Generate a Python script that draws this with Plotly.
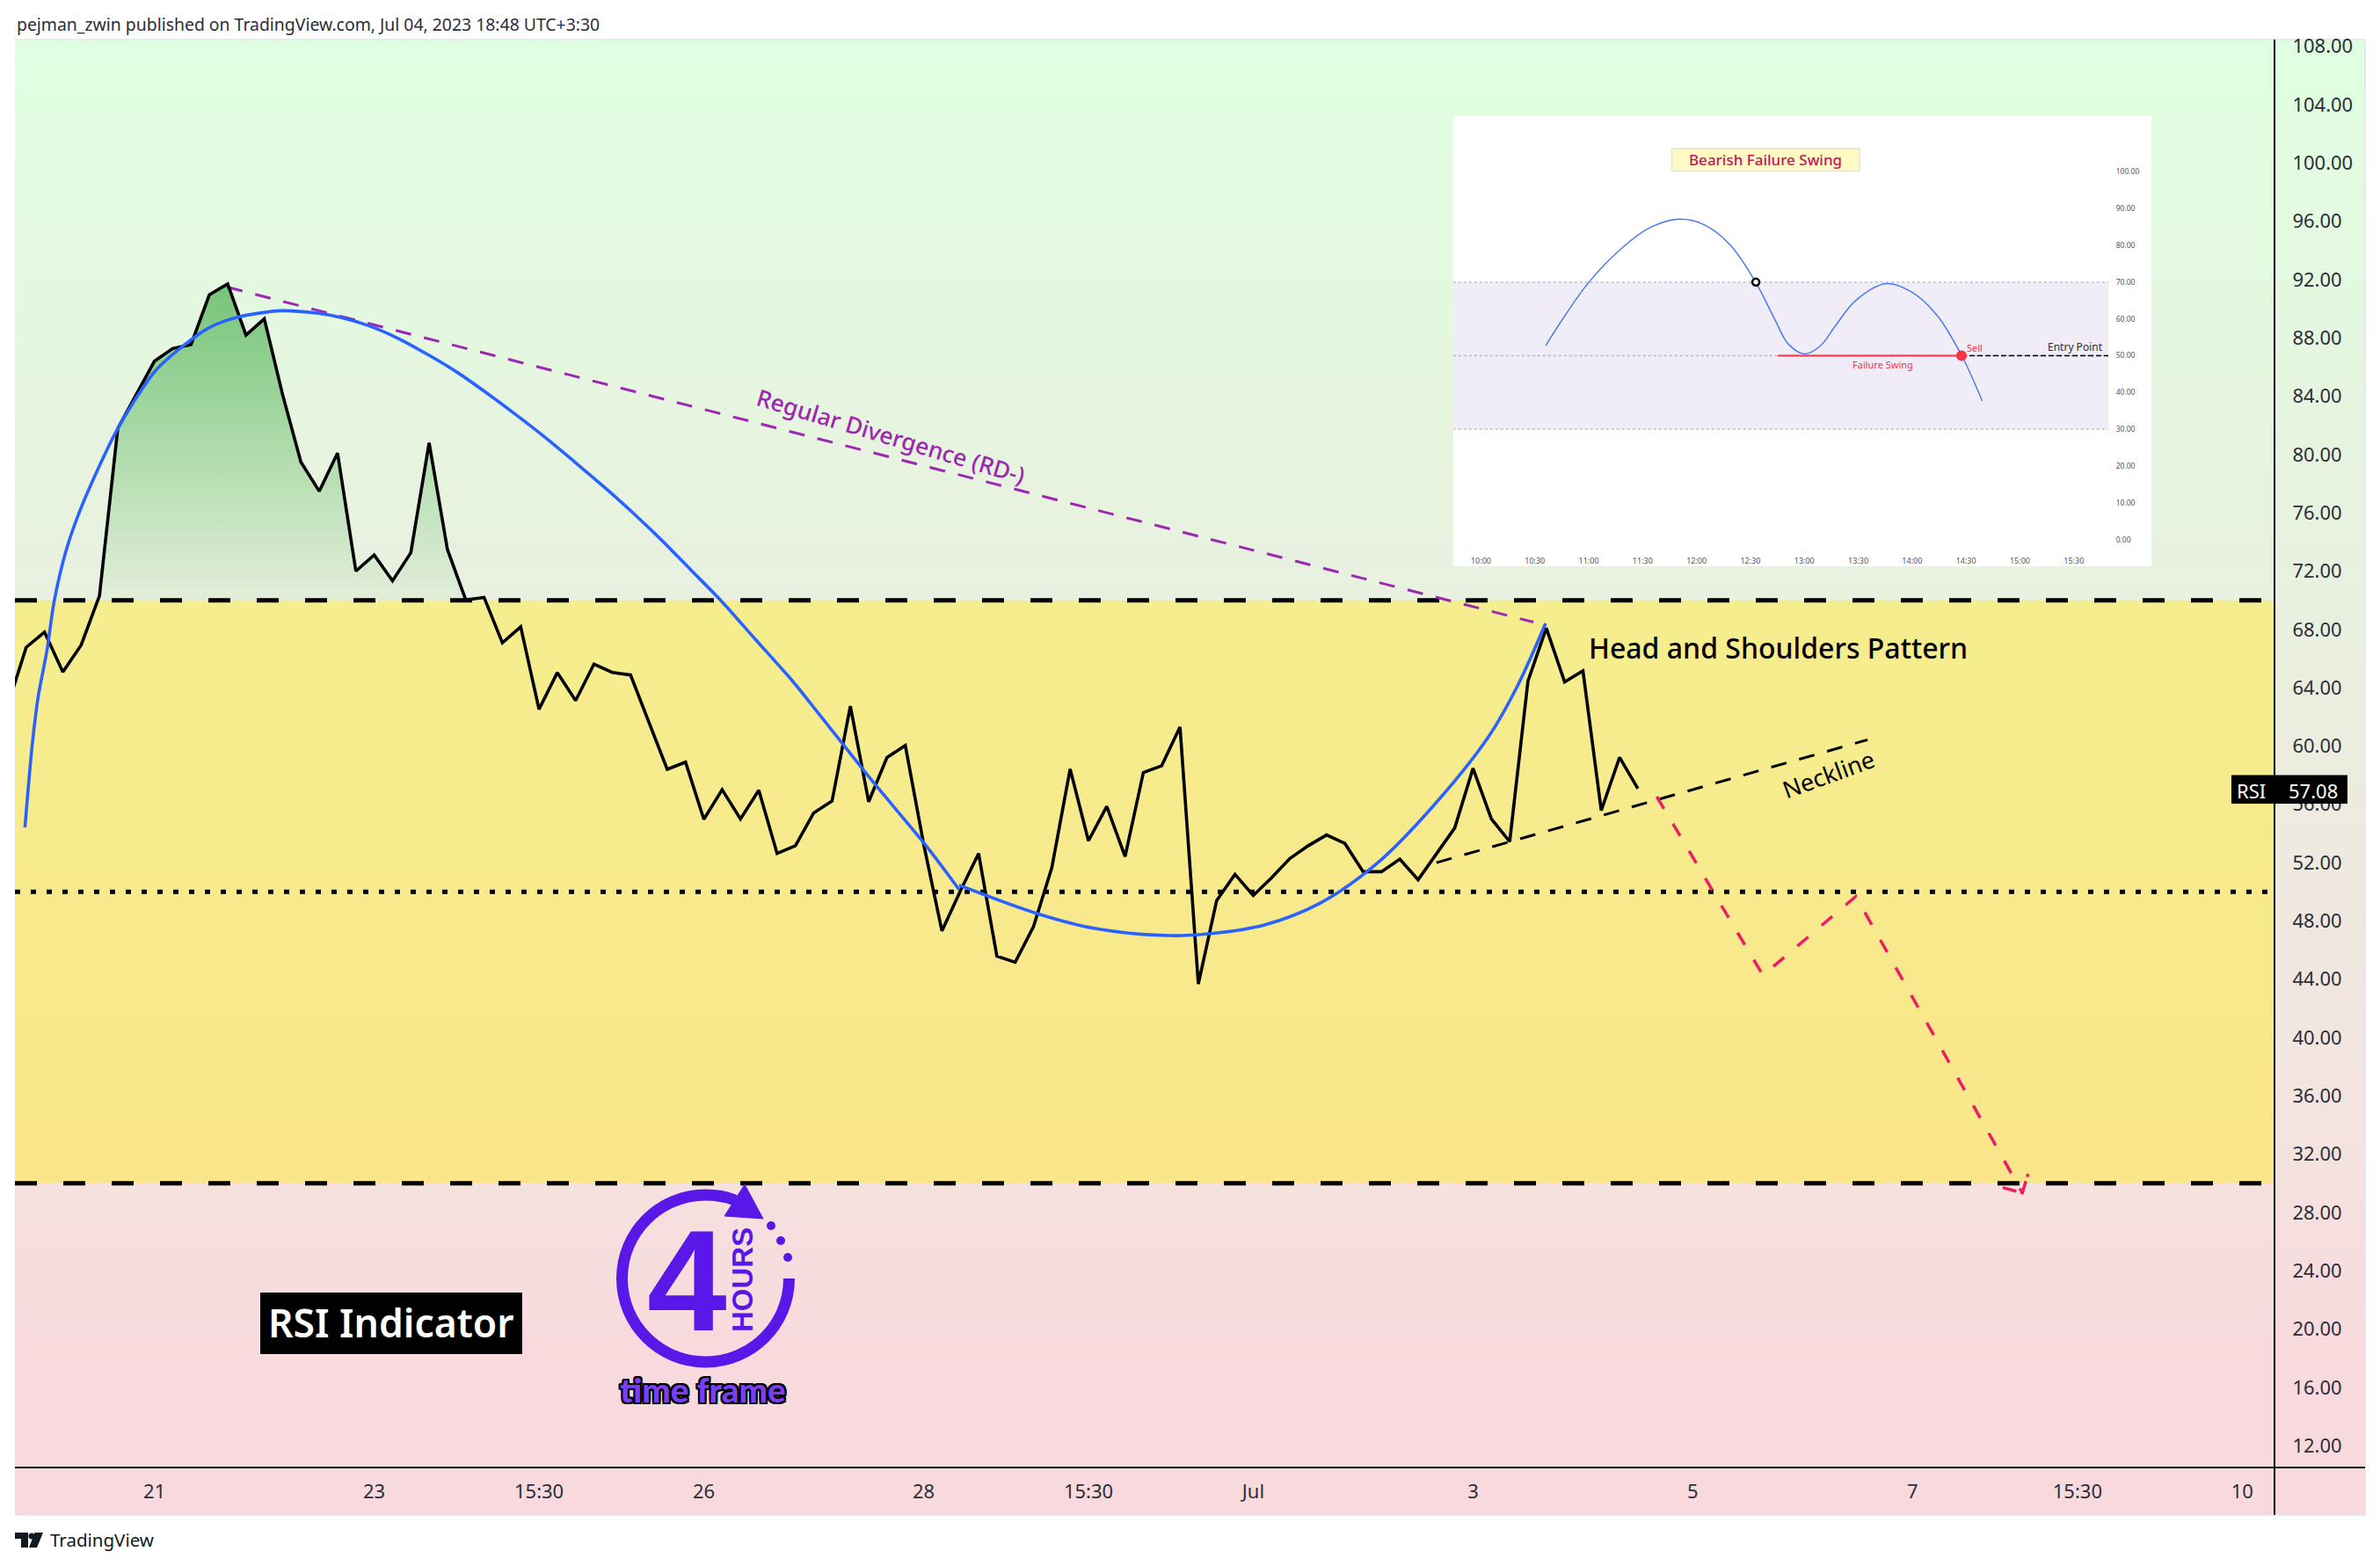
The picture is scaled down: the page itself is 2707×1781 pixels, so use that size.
import plotly.graph_objects as go

# page is 2707x1781 but body has an 8px margin, so the figure is a bit smaller
OFF = 8
W = 2691
H = 1764

# ---- RSI chart data (bar index, value)
rsi_x = list(range(0, 90))
rsi_y = [62.82, 66.77, 67.82, 65.08, 66.92, 70.31, 81.79, 84.1, 86.4, 87.27,
         87.54, 90.96, 91.7, 88.19, 89.3, 84.1, 79.48, 77.48, 80.1, 72.0,
         73.11, 71.33, 73.26, 80.8, 73.48, 70.03, 70.2, 67.08, 68.18, 62.52,
         65.04, 63.12, 65.62, 65.05, 64.87, 61.64, 58.4, 58.9, 54.98, 57.01,
         55.0, 56.97, 52.63, 53.16, 55.42, 56.23, 62.74, 56.18, 59.21, 60.04,
         53.28, 47.32, 50.04, 52.63, 45.59, 45.17, 47.62, 51.66, 58.42, 53.5,
         55.86, 52.42, 58.19, 58.65, 61.31, 43.67, 49.4, 51.2, 49.75, 50.97,
         52.29, 53.16, 53.9, 53.32, 51.38, 51.38, 52.24, 50.83, 52.58, 54.38,
         58.47, 55.0, 53.44, 64.47, 68.09, 64.4, 65.16, 55.58, 59.22, 57.08]

# blue hand drawn arcs
arc1_x = [0.93, 1.33, 1.65, 2.13, 2.53, 3.17, 3.89, 4.85, 5.89, 6.93, 8.05, 9.57, 10.93, 12.53,
          14.93, 16.85, 18.13, 19.73, 21.33, 22.93, 24.53, 26.13, 27.74, 29.33, 30.93, 32.53,
          34.13, 35.73, 37.33, 38.93, 40.85, 42.78, 44.10, 47.15, 50.22, 51.95]
arc1_y = [54.42, 60.11, 63.35, 66.54, 69.96, 73.38, 76.0, 78.81, 81.52, 83.73, 85.74, 87.45, 88.66, 89.42,
          89.86, 89.70, 89.42, 88.82, 87.95, 86.85, 85.64, 84.23, 82.73, 81.18, 79.51, 77.8,
          76.0, 74.08, 72.03, 69.98, 67.27, 64.55, 62.50, 57.68, 53.03, 50.14]
arc2_x = [51.94, 56.35, 59.39, 63.37, 65.53, 68.60, 71.65, 74.70, 77.77, 80.84, 82.38, 83.96]
arc2_y = [50.46, 48.45, 47.48, 47.0, 47.12, 47.73, 49.23, 51.89, 55.81, 60.63, 64.01, 68.41]

div_x = [11.97, 83.3]
div_y = [91.48, 68.5]
neck_x = [78.0, 101.54]
neck_y = [52.0, 60.43]
path_x = [90.03, 95.83, 100.9, 109.99]
path_y = [56.53, 44.27, 49.69, 29.35]
head_x = [108.92, 109.99, 110.31]
head_y = [29.71, 29.35, 30.66]

x_ticks = [8, 20, 29, 38, 50, 59, 68, 80, 92, 104, 113, 122]
x_labels = ['21', '23', '15:30', '26', '28', '15:30', 'Jul', '3', '5', '7', '15:30', '10']
y_ticks = list(range(12, 112, 4))

# ---- inset (bearish failure swing)
ins_x = [10.60, 11.0, 11.325, 11.56, 11.84, 12.07, 12.31, 12.55, 12.73, 12.85, 13.0, 13.15,
         13.29, 13.48, 13.76, 13.99, 14.23, 14.46, 14.65]
ins_y = [52.74, 69.93, 79.7, 84.7, 87.1, 85.6, 80.2, 69.9, 59.6, 53.2, 50.5, 52.7,
         58.2, 65.1, 69.6, 67.4, 61.0, 50.0, 37.7]
ins_x_ticks = [10, 10.5, 11, 11.5, 12, 12.5, 13, 13.5, 14, 14.5, 15, 15.5]
ins_x_labels = ['10:00', '10:30', '11:00', '11:30', '12:00', '12:30', '13:00', '13:30', '14:00', '14:30', '15:00', '15:30']
ins_y_ticks = [0, 10, 20, 30, 40, 50, 60, 70, 80, 90, 100]

# axis windows
X_MIN, X_MAX = 0.385, 123.76
Y_MIN, Y_MAX = 10.51, 108.13
INS_X_MIN, INS_X_MAX = 9.742, 15.82
INS_Y_MIN, INS_Y_MAX = -2.25, 115.3

FONT = 'Noto Sans'
INK = '#2a2e39'


def dom_x(a, b):
    return [(a - OFF) / W, (b - OFF) / W]


def dom_y(top, bottom):
    return [1 - (bottom - OFF) / H, 1 - (top - OFF) / H]


fig = go.Figure()

# panel background, on a full page axis in page pixels
fig.add_trace(go.Scatter(x=[17, 2690, 2690, 17], y=[45, 45, 1723, 1723], mode='lines',
                         line=dict(color='#E0E3EB', width=1.5), fill='toself', xaxis='x', yaxis='y',
                         fillgradient=dict(type='vertical',
                                           colorscale=[[0, '#F9D9DD'], [0.12, '#F8DADD'], [0.235, '#F5E2DF'],
                                                       [0.62, '#E9F0DF'], [1, '#E0FFE1']]),
                         hoverinfo='skip'))
fig.add_trace(go.Scatter(x=[1652.8, 2447, 2447, 1652.8], y=[131.4, 131.4, 644, 644], mode='none',
                         fill='toself', fillcolor='white', xaxis='x', yaxis='y', hoverinfo='skip'))

# main chart
fig.add_trace(go.Scatter(x=[X_MIN, X_MAX, X_MAX, X_MIN], y=[30, 30, 70, 70], mode='none', fill='toself',
                         fillgradient=dict(type='vertical', colorscale=[[0, '#FBE58B'], [1, '#F5EE8E']]),
                         xaxis='x2', yaxis='y2', hoverinfo='skip'))
ob_x = rsi_x[5:27] + [rsi_x[26], rsi_x[5]]
ob_y = rsi_y[5:27] + [70, 70]
fig.add_trace(go.Scatter(x=ob_x, y=ob_y, mode='none', fill='toself',
                         fillgradient=dict(type='vertical',
                                           colorscale=[[0, 'rgba(76,175,80,0.04)'], [1, 'rgba(76,175,80,0.72)']]),
                         xaxis='x2', yaxis='y2', hoverinfo='skip'))
for level, dash in [(70, '25px,30px'), (30, '25px,30px'), (50, '6px,12px')]:
    fig.add_trace(go.Scatter(x=[X_MIN, X_MAX], y=[level, level], mode='lines',
                             line=dict(color='black', width=5, dash=dash), xaxis='x2', yaxis='y2'))
fig.add_trace(go.Scatter(x=div_x, y=div_y, mode='lines', line=dict(color='#9C27B0', width=3, dash='18px,15px'),
                         xaxis='x2', yaxis='y2'))
fig.add_trace(go.Scatter(x=neck_x, y=neck_y, mode='lines', line=dict(color='black', width=3, dash='18px,15px'),
                         xaxis='x2', yaxis='y2'))
fig.add_trace(go.Scatter(x=path_x, y=path_y, mode='lines', line=dict(color='#EB1E63', width=3.5, dash='16px,20px'),
                         xaxis='x2', yaxis='y2'))
fig.add_trace(go.Scatter(x=head_x, y=head_y, mode='lines', line=dict(color='#EB1E63', width=3.5, dash='16px,5px'),
                         xaxis='x2', yaxis='y2'))
fig.add_trace(go.Scatter(x=rsi_x, y=rsi_y, mode='lines', line=dict(color='black', width=3.6),
                         xaxis='x2', yaxis='y2'))
for ax, ay, smooth in [(arc1_x, arc1_y, 0.8), (arc2_x, arc2_y, 1.0)]:
    fig.add_trace(go.Scatter(x=ax, y=ay, mode='lines',
                             line=dict(color='#2962FF', width=3.6, shape='spline', smoothing=smooth),
                             xaxis='x2', yaxis='y2'))

# inset chart
fig.add_trace(go.Scatter(x=[INS_X_MIN, INS_X_MAX, INS_X_MAX, INS_X_MIN], y=[30, 30, 70, 70], mode='none',
                         fill='toself', fillcolor='#F0EDF8', xaxis='x3', yaxis='y3'))
for level in [70, 50, 30]:
    fig.add_trace(go.Scatter(x=[INS_X_MIN, INS_X_MAX], y=[level, level], mode='lines',
                             line=dict(color='#B8B5BF', width=1.3, dash='3px,3px'), xaxis='x3', yaxis='y3'))
fig.add_trace(go.Scatter(x=[12.754, 14.458], y=[50, 50], mode='lines', line=dict(color='#F23645', width=2),
                         xaxis='x3', yaxis='y3'))
fig.add_trace(go.Scatter(x=[14.458, INS_X_MAX], y=[50, 50], mode='lines',
                         line=dict(color='black', width=1.6, dash='6px,3px'), xaxis='x3', yaxis='y3'))
fig.add_trace(go.Scatter(x=ins_x, y=ins_y, mode='lines',
                         line=dict(color='#4C79F0', width=1.5, shape='spline', smoothing=1.0),
                         xaxis='x3', yaxis='y3'))
fig.add_trace(go.Scatter(x=[12.55], y=[70], mode='markers',
                         marker=dict(size=8, color='white', line=dict(color='black', width=2.5)),
                         xaxis='x3', yaxis='y3'))
fig.add_trace(go.Scatter(x=[14.458], y=[50], mode='markers', marker=dict(size=12, color='#F23645'),
                         xaxis='x3', yaxis='y3'))

# decorations drawn above everything, in page pixels
shapes = [
    dict(type='line', x0=2587, x1=2587, y0=45, y1=1723, line=dict(color='black', width=2)),
    dict(type='line', x0=17, x1=2690, y0=1669, y1=1669, line=dict(color='black', width=2)),
    dict(type='rect', x0=2538, x1=2670, y0=881.6, y1=914, fillcolor='black', line=dict(width=0)),
    dict(type='rect', x0=296, x1=594, y0=1470, y1=1540, fillcolor='black', line=dict(width=0)),
    dict(type='rect', x0=1901.4, x1=2115, y0=169, y1=194.5, fillcolor='#FFF9C4', line=dict(color='#E8E4D8', width=1.5)),
    # 4 hours clock ring and arrow
    dict(type='path',
         path='M 897.5,1454 C 897.5,1506.5 855,1549 802.5,1549 C 750,1549 707.5,1506.5 707.5,1454 '
              'C 707.5,1401.5 750,1359 802.5,1359 C 815,1359 826,1361 836,1365',
         line=dict(color='#5A18E8', width=13)),
    dict(type='path', path='M 847,1347 L 868,1386 L 824,1383 Z', fillcolor='#5A18E8', line=dict(color='#5A18E8', width=1)),
    dict(type='circle', x0=872, x1=882, y0=1389, y1=1399, fillcolor='#5A18E8', line=dict(width=0)),
    dict(type='circle', x0=883, x1=893, y0=1406, y1=1416, fillcolor='#5A18E8', line=dict(width=0)),
    dict(type='circle', x0=891, x1=901, y0=1425, y1=1435, fillcolor='#5A18E8', line=dict(width=0)),
    # TradingView mark
    dict(type='path', path='M 17,1743 H 32 V 1760 H 24 V 1750 H 17 Z', fillcolor='#131722', line=dict(width=0)),
    dict(type='circle', x0=32.5, x1=39.5, y0=1743.5, y1=1750.5, fillcolor='#131722', line=dict(width=0)),
    dict(type='path', path='M 49,1743 L 39.5,1743 L 33,1760 L 42,1760 Z', fillcolor='#131722', line=dict(width=0)),
]
for s in shapes:
    s.update(xref='x', yref='y', layer='above')


def note(text, x, y, size, color='black', angle=0, family=FONT, xanchor='center', **font_args):
    return dict(text=text, x=x, y=y, xref='x', yref='y', showarrow=False, textangle=angle,
                xanchor=xanchor, yanchor='middle',
                font=dict(family=family, size=size, color=color, **font_args))


annotations = [
    note('pejman_zwin published on TradingView.com, Jul 04, 2023 18:48 UTC+3:30', 17, 27, 19.4, INK, xanchor='left'),
    note('TradingView', 55, 1751, 20.5, '#131722', xanchor='left'),
    note('Head and Shoulders Pattern', 2022, 736, 32, weight=500),
    note('Neckline', 2079, 880, 27, angle=-20),
    note('Regular Divergence (RD-)', 1013, 496, 26.5, '#9C27B0', angle=16.6, weight=500),
    note('RSI Indicator', 445, 1503, 44.5, 'white', weight=600),
    note('RSI', 2560, 899, 22, 'white'),
    note('57.08', 2631, 899, 22, 'white'),
    note('Bearish Failure Swing', 2008, 181, 17, '#C2185B', weight=500),
    note('Sell', 2245.8, 395, 11, '#F23645'),
    note('Entry Point', 2360.6, 394, 12, INK),
    note('Failure Swing', 2141, 414.6, 11, '#F23645'),
    note('4', 781, 1456, 163, '#5A18E8', family='Liberation Sans', weight='bold'),
    note('HOURS', 844, 1456, 33, '#5A18E8', angle=-90, family='Liberation Sans', weight='bold'),
    note('time frame', 799, 1580, 38.5, '#7B3FF2', family='Lato', weight=900,
         shadow='2px 0 0 #000, -2px 0 0 #000, 0 2px 0 #000, 0 -2px 0 #000, 2px 2px 0 #000, -2px -2px 0 #000, 2px -2px 0 #000, -2px 2px 0 #000'),
]

fig.update_layout(
    width=W, height=H, margin=dict(l=0, r=0, t=0, b=0, pad=0), autosize=False,
    paper_bgcolor='white', plot_bgcolor='rgba(0,0,0,0)', showlegend=False,
    shapes=shapes, annotations=annotations,
    xaxis=dict(domain=[0, 1], range=[OFF, OFF + W], visible=False, fixedrange=True, automargin=False),
    yaxis=dict(domain=[0, 1], range=[OFF + H, OFF], visible=False, fixedrange=True, automargin=False),
    xaxis2=dict(domain=dom_x(17, 2587), range=[X_MIN, X_MAX], anchor='y2', showgrid=False, zeroline=False, automargin=False,
                tickmode='array', tickvals=x_ticks, ticktext=x_labels, ticks='outside', ticklen=8,
                tickcolor='rgba(0,0,0,0)', tickfont=dict(family=FONT, size=22, color=INK), showline=False),
    yaxis2=dict(domain=dom_y(50.5, 1669), range=[Y_MIN, Y_MAX], anchor='x2', side='right', showgrid=False, automargin=False,
                zeroline=False, tickmode='array', tickvals=y_ticks, tickformat='.2f', ticks='outside', ticklen=15,
                tickcolor='rgba(0,0,0,0)', tickfont=dict(family=FONT, size=22, color=INK), showline=False),
    xaxis3=dict(domain=dom_x(1652.8, 2398), range=[INS_X_MIN, INS_X_MAX], anchor='y3', showgrid=False, zeroline=False, automargin=False,
                tickmode='array', tickvals=ins_x_ticks, ticktext=ins_x_labels, ticks='outside', ticklen=6,
                tickcolor='rgba(0,0,0,0)', tickfont=dict(family=FONT, size=9, color='#555')),
    yaxis3=dict(domain=dom_y(131.4, 623), range=[INS_Y_MIN, INS_Y_MAX], anchor='x3', side='right', showgrid=False, automargin=False,
                zeroline=False, tickmode='array', tickvals=ins_y_ticks, tickformat='.2f', ticks='outside', ticklen=6,
                tickcolor='rgba(0,0,0,0)', tickfont=dict(family=FONT, size=8.5, color='#555')),
)

fig.write_html("out.html")
